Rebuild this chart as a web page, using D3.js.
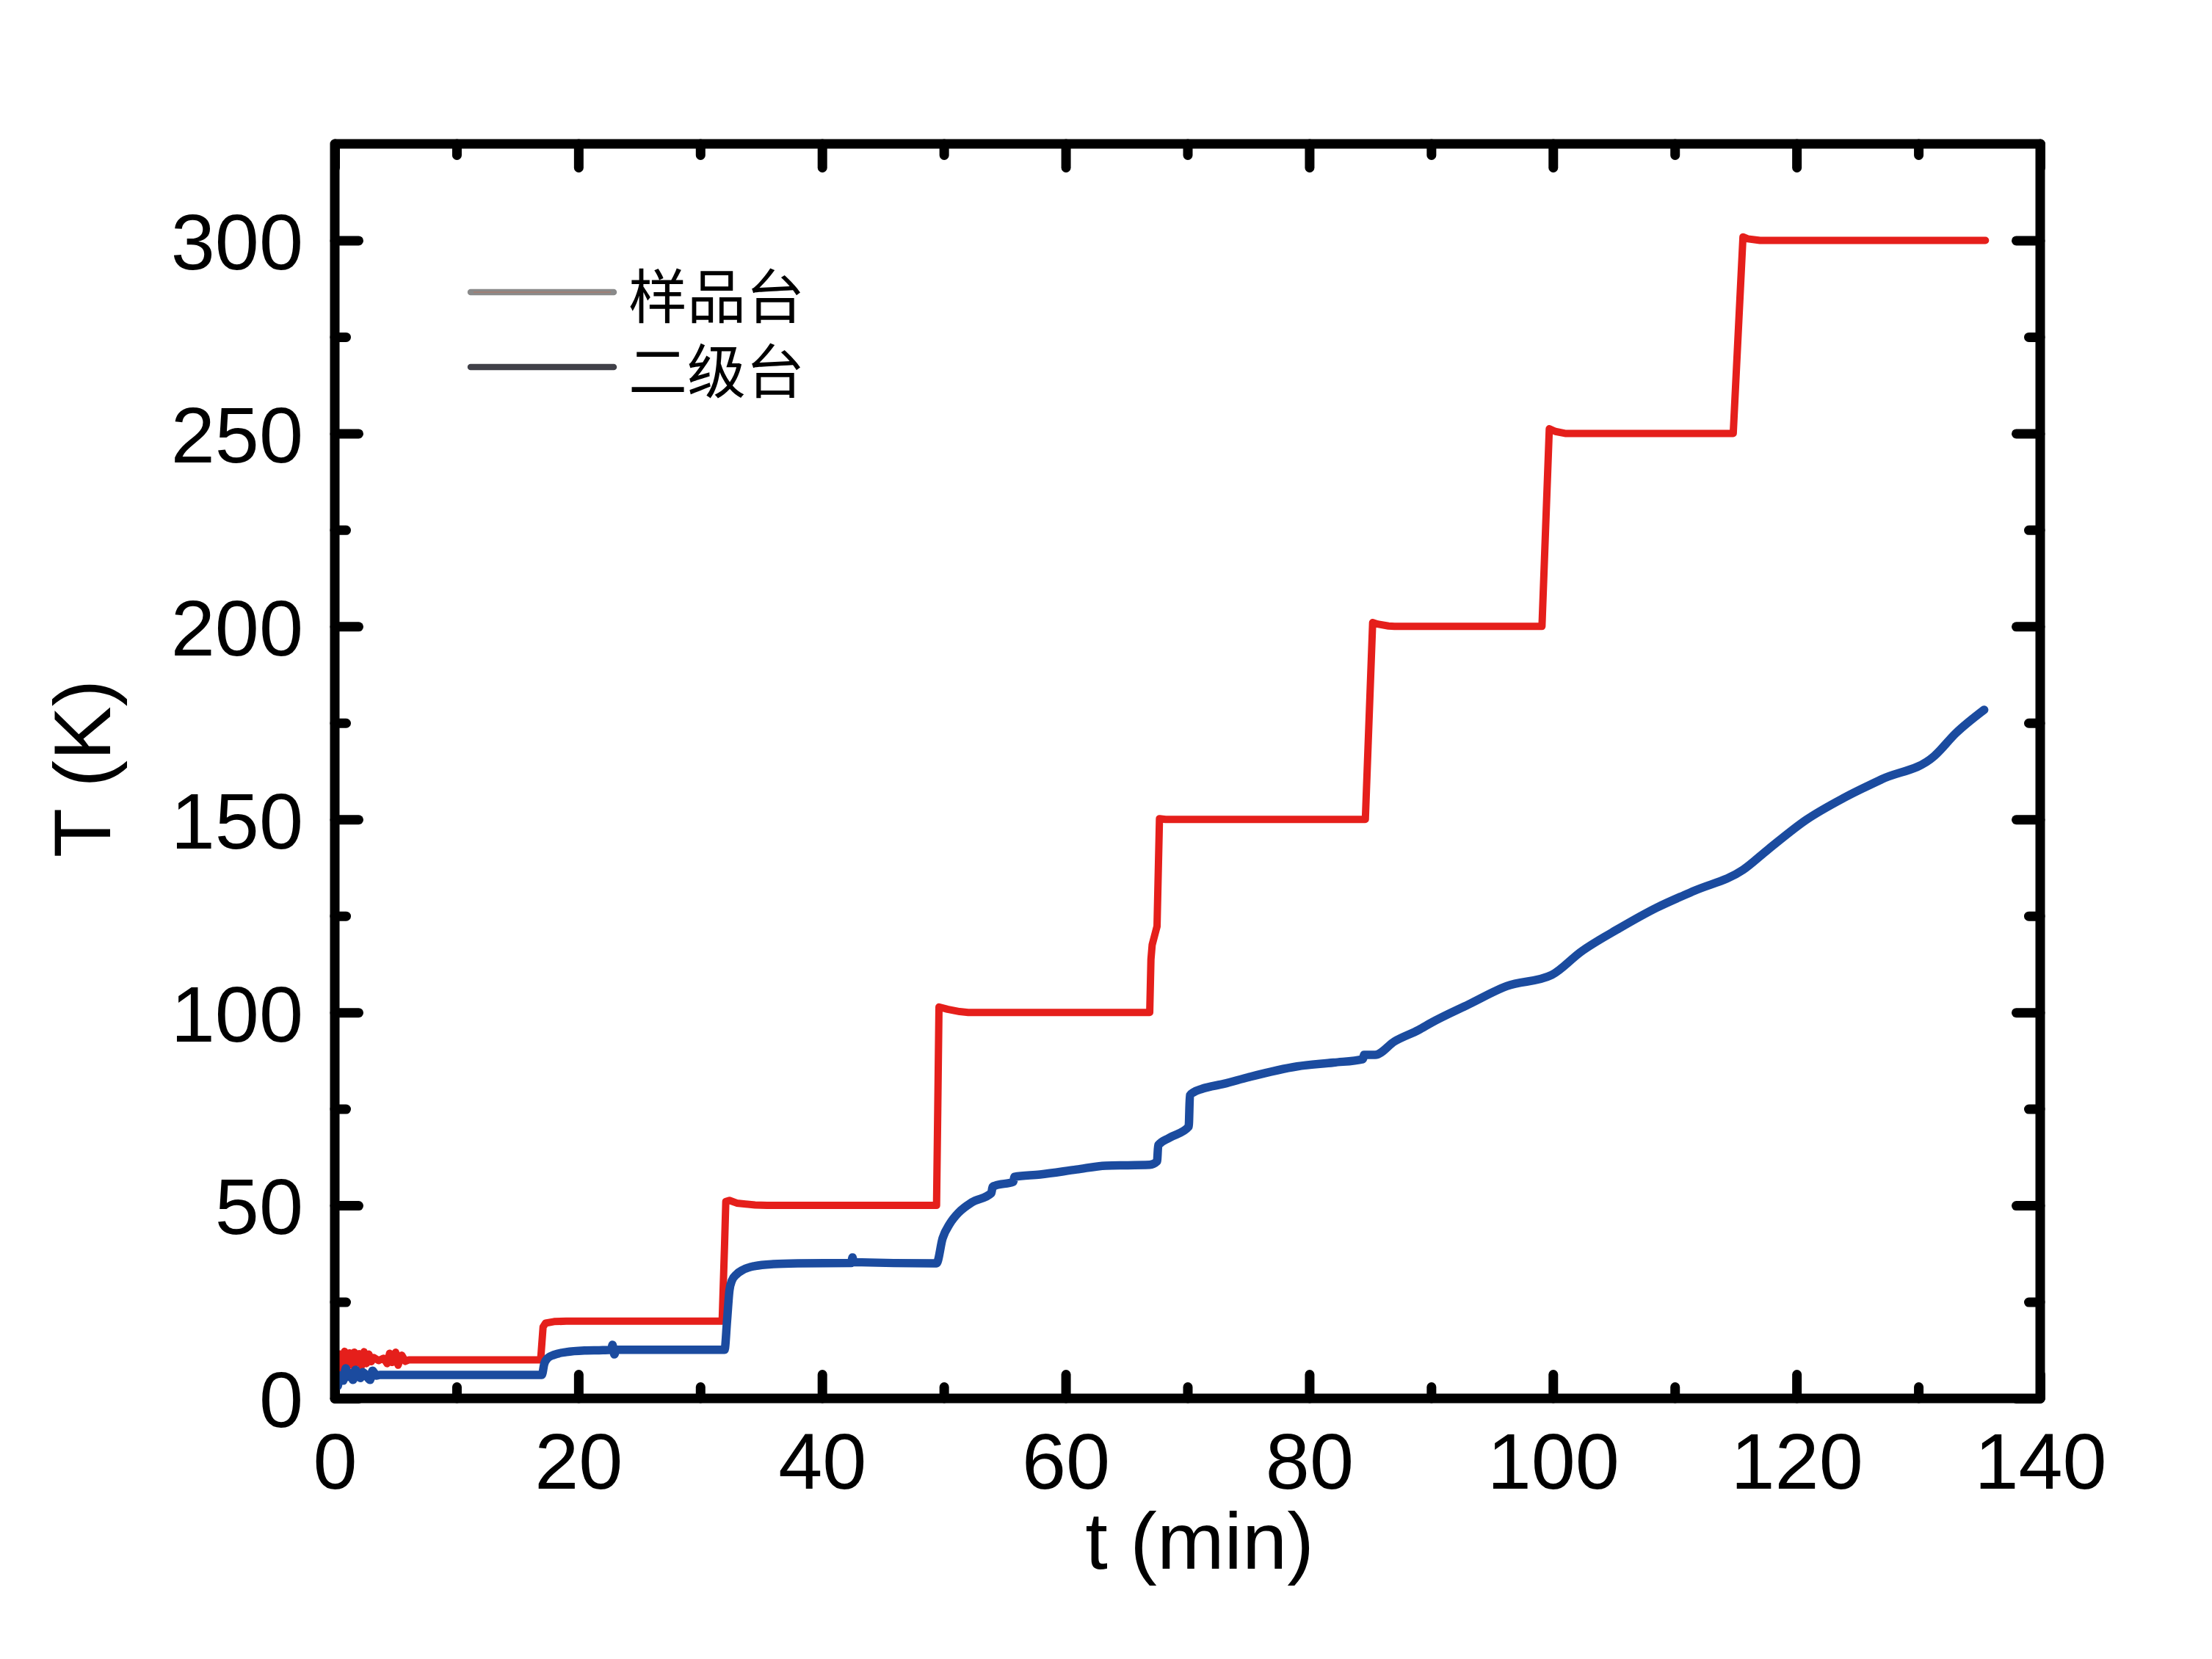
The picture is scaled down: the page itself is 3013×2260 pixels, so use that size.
<!DOCTYPE html>
<html>
<head>
<meta charset="utf-8">
<script src="https://cdn.jsdelivr.net/npm/d3@7"></script>
<style>
  html, body { margin: 0; padding: 0; background: #ffffff; }
  svg { display: block; }
</style>
</head>
<body>
<svg id="chart" width="3013" height="2260"></svg>
<script>
// ---------------- DATA ----------------
// 样品台 (sample stage) — time in min, temperature in K
const sampleTime = [0.25, 0.4, 0.6, 0.8, 1.0, 1.2, 1.4, 1.6, 1.8, 2.0, 2.2, 2.4, 2.6, 2.8, 3.0, 3.2, 3.6, 4.0, 4.3, 4.5, 4.7, 5.0, 5.2, 5.5, 5.8, 6.1,
  16.9, 17.1, 17.3, 18.0, 19.0, 31.8, 32.0, 32.1, 32.4, 33.0, 34.5, 35.5,
  49.4, 49.5, 49.6, 50.3, 51.3, 52.0, 66.9, 67.0, 67.1, 67.5, 67.7, 68.2,
  84.6, 85.2, 85.6, 86.5, 87.0, 99.1, 99.7, 100.2, 101.0, 114.8, 115.6, 116.0, 117.0, 135.5];
const sampleTemp = [3.5, 11.5, 8.8, 12.2, 9.0, 11.8, 8.6, 12.0, 9.2, 11.6, 8.5, 12.1, 9.0, 11.5, 9.5, 10.6, 9.8, 10.4, 9.0, 11.7, 9.3, 12.0, 8.6, 11.2, 9.6, 10.0,
  10.0, 18.5, 19.5, 19.9, 20.0, 20.0, 40.0, 51.0, 51.3, 50.6, 50.1, 50.0,
  50.0, 75.0, 101.4, 100.8, 100.2, 100.0, 100.0, 113.7, 117.5, 122.3, 150.2, 150.0,
  150.0, 201.0, 200.6, 200.1, 200.0, 200.0, 251.2, 250.5, 250.0, 250.0, 300.9, 300.4, 300.0, 300.0];

// 二级台 (second stage)
const secondTime = [0.25, 0.5, 0.7, 0.9, 1.1, 1.3, 1.5, 1.7, 1.9, 2.1, 2.3, 2.6, 2.9, 3.1, 3.4, 3.7,
  17.0, 17.2, 17.5, 18.0, 19.0, 20.5, 22.0, 22.7, 22.8, 22.95, 23.1, 24.0, 32.0,
  32.2, 32.4, 32.6, 33.0, 33.5, 34.5, 36.0, 38.0, 42.4, 42.5, 42.6, 49.4,
  49.9, 50.5, 51.2, 52.3, 53.9, 54.0, 54.2, 55.7, 55.8, 57.9, 60.9, 63.3, 66.9, 67.5, 67.6, 68.5, 70.1,
  70.2, 70.5, 71.2, 73.0, 75.0, 79.0, 82.0, 84.4, 84.5, 85.4, 87.0, 89.0, 90.0, 93.1, 96.2, 99.9,
  102.3, 105.4, 108.5, 111.6, 115.6, 117.7, 120.8, 123.9, 127.0, 131.3, 133.1, 135.4];
const secondTemp = [3.2, 6.0, 4.6, 7.8, 5.6, 6.5, 4.8, 7.4, 6.0, 5.3, 6.8, 5.8, 4.8, 7.2, 5.9, 6.1,
  6.1, 9.0, 10.5, 11.3, 12.0, 12.4, 12.5, 12.6, 13.9, 11.4, 12.6, 12.6, 12.6,
  20.0, 28.0, 30.5, 32.2, 33.3, 34.3, 34.8, 35.0, 35.1, 36.5, 35.3, 35.0,
  41.5, 45.3, 48.1, 50.8, 53.2, 54.8, 55.1, 56.1, 57.4, 58.0, 59.3, 60.3, 60.5, 61.4, 65.6, 67.5, 70.4,
  78.5, 79.3, 80.2, 81.5, 83.2, 86.0, 87.0, 87.9, 89.0, 89.0, 92.5, 95.5, 97.3, 102.1, 106.8, 109.7,
  115.7, 121.7, 127.1, 131.5, 136.9, 142.3, 149.9, 155.6, 160.4, 166.4, 172.4, 178.4];

const xMajorTicks = [0, 20, 40, 60, 80, 100, 120, 140];
const xMinorTicks = [10, 30, 50, 70, 90, 110, 130];
const yMajorTicks = [0, 50, 100, 150, 200, 250, 300];
const yMinorTicks = [25, 75, 125, 175, 225, 275];

const legendLabels = ["样品台", "二级台"];
const xTitle = "t (min)";
const yTitle = "T (K)";

// ---------------- LAYOUT ----------------
const L = 456, R = 2779, T = 196, B = 1905;
const svg = d3.select("#chart");
const x = d3.scaleLinear().domain([0, 140]).range([L, R]);
const y = d3.scaleLinear().domain([0, 325]).range([B, T]);

const numFont = "'Liberation Sans', Arial, Helvetica, sans-serif";
const tickFontSize = 108;

function styleAxis(g) {
  g.select(".domain").remove();
  g.selectAll(".tick line")
    .attr("stroke", "#000")
    .attr("stroke-width", 13)
    .attr("stroke-linecap", "round");
  g.selectAll(".tick text")
    .attr("font-family", numFont)
    .attr("font-size", tickFontSize)
    .attr("fill", "#000");
}

const majorLen = 32.5, minorLen = 15.5;

// bottom
svg.append("g").attr("transform", `translate(0,${B})`)
  .call(d3.axisBottom(x).tickValues(xMajorTicks).tickSize(-majorLen).tickPadding(46).tickFormat(d3.format("d")))
  .call(styleAxis);
svg.append("g").attr("transform", `translate(0,${B})`)
  .call(d3.axisBottom(x).tickValues(xMinorTicks).tickSize(-minorLen).tickFormat(""))
  .call(styleAxis);
// top
svg.append("g").attr("transform", `translate(0,${T})`)
  .call(d3.axisTop(x).tickValues(xMajorTicks).tickSize(-majorLen).tickFormat(""))
  .call(styleAxis);
svg.append("g").attr("transform", `translate(0,${T})`)
  .call(d3.axisTop(x).tickValues(xMinorTicks).tickSize(-minorLen).tickFormat(""))
  .call(styleAxis);
// left
const yl = svg.append("g").attr("transform", `translate(${L},0)`)
  .call(d3.axisLeft(y).tickValues(yMajorTicks).tickSize(-majorLen).tickPadding(43).tickFormat(d3.format("d")))
  .call(styleAxis);
yl.selectAll(".tick text").attr("dy", "0.36em");
svg.append("g").attr("transform", `translate(${L},0)`)
  .call(d3.axisLeft(y).tickValues(yMinorTicks).tickSize(-minorLen).tickFormat(""))
  .call(styleAxis);
// right
svg.append("g").attr("transform", `translate(${R},0)`)
  .call(d3.axisRight(y).tickValues(yMajorTicks).tickSize(-majorLen).tickFormat(""))
  .call(styleAxis);
svg.append("g").attr("transform", `translate(${R},0)`)
  .call(d3.axisRight(y).tickValues(yMinorTicks).tickSize(-minorLen).tickFormat(""))
  .call(styleAxis);

// ---------------- LINES ----------------
const lineStep = d3.line().x(d => x(d[0])).y(d => y(d[1]));
const lineSmooth = d3.line().x(d => x(d[0])).y(d => y(d[1])).curve(d3.curveMonotoneX);
const sampleData = sampleTime.map((t, i) => [t, sampleTemp[i]]);
const secondData = secondTime.map((t, i) => [t, secondTemp[i]]);

svg.append("path").datum(sampleData)
  .attr("d", lineStep).attr("fill", "none")
  .attr("stroke", "#e51f1b").attr("stroke-width", 10)
  .attr("stroke-linejoin", "round").attr("stroke-linecap", "round");
svg.append("path").datum(secondData)
  .attr("d", lineSmooth).attr("fill", "none")
  .attr("stroke", "#1b4b9f").attr("stroke-width", 11.5)
  .attr("stroke-linejoin", "round").attr("stroke-linecap", "round");

// ---------------- FRAME ----------------
svg.append("rect")
  .attr("x", L).attr("y", T).attr("width", R - L).attr("height", B - T)
  .attr("fill", "none").attr("stroke", "#000").attr("stroke-width", 13)
  .attr("stroke-linejoin", "round");

// ---------------- AXIS TITLES ----------------
svg.append("text")
  .attr("x", 1634).attr("y", 2137)
  .attr("text-anchor", "middle")
  .attr("font-family", numFont).attr("font-size", 110).attr("fill", "#000")
  .text(xTitle);
svg.append("text")
  .attr("transform", "translate(150,1047) rotate(-90)")
  .attr("text-anchor", "middle")
  .attr("font-family", numFont).attr("font-size", 110).attr("fill", "#000")
  .text(yTitle);

// ---------------- LEGEND ----------------
const legendY = [398, 500];
const legendColors = ["#8a8a8a", "#404048"];
legendLabels.forEach((lab, i) => {
  svg.append("line")
    .attr("x1", 641).attr("x2", 836).attr("y1", legendY[i]).attr("y2", legendY[i])
    .attr("stroke", legendColors[i]).attr("stroke-width", 8.5).attr("stroke-linecap", "round");
  if (i === 0) {
    svg.append("line")
      .attr("x1", 645).attr("x2", 832).attr("y1", legendY[i]).attr("y2", legendY[i])
      .attr("stroke", "#c0705a").attr("stroke-width", 1.2).attr("opacity", 0.8);
  }
  svg.append("text")
    .attr("x", 856).attr("y", legendY[i])
    .attr("dominant-baseline", "central")
    .attr("font-family", "'Noto Sans CJK SC', sans-serif")
    .attr("font-size", 80).attr("fill", "#000")
    .text(lab);
});
</script>
</body>
</html>
